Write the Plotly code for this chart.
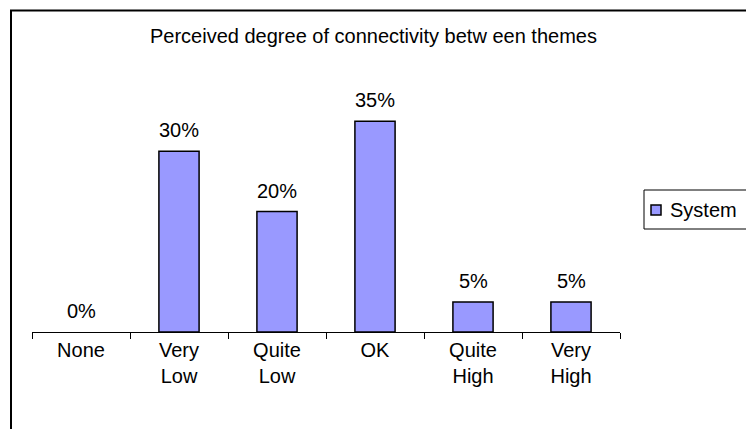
import plotly.graph_objects as go

# Survey responses: share of respondents per perceived connectivity level
categories = ["None", "Very Low", "Quite Low", "OK", "Quite High", "Very High"]
tick_labels = ["None", "Very<br>Low", "Quite<br>Low", "OK", "Quite<br>High", "Very<br>High"]
system_pct = [0, 30, 20, 35, 5, 5]
series_name = "System"
chart_title = "Perceived degree of connectivity betw een themes"

W, H = 746, 429
L, R, T, B = 32, 126, 91, 97
PW, PH = W - L - R, H - T - B

def px_x(px):
    return (px - L) / PW

def px_y(py):
    return (H - B - py) / PH

FONT = "Liberation Sans, Arial, sans-serif"
FS = 20
BAR_FILL = "#9999FF"

fig = go.Figure()
fig.add_trace(go.Bar(
    x=categories,
    y=system_pct,
    name=series_name,
    marker=dict(
        color=BAR_FILL,
        line=dict(color="#000000", width=[0 if v == 0 else 1.5 for v in system_pct]),
    ),
    showlegend=False,
))

# Value labels above each bar
for c, v in zip(categories, system_pct):
    fig.add_annotation(
        x=c, y=v, xref="x", yref="y",
        text=f"{v}%", showarrow=False,
        yanchor="bottom", yshift=8,
        font=dict(family=FONT, size=FS, color="#000000"),
    )

# Outer chart frame
fig.add_shape(
    type="rect", xref="paper", yref="paper",
    x0=px_x(11), x1=px_x(780), y0=px_y(460), y1=px_y(10.5),
    line=dict(color="#000000", width=2), fillcolor="rgba(0,0,0,0)",
    layer="below",
)

# Title
fig.add_annotation(
    x=px_x(373), y=px_y(36), xref="paper", yref="paper",
    text=chart_title, showarrow=False,
    xanchor="center", yanchor="middle",
    font=dict(family=FONT, size=FS, color="#000000"),
)

# Legend box with a compact swatch, running past the right edge
fig.add_shape(
    type="rect", xref="paper", yref="paper",
    x0=px_x(644), x1=px_x(790), y0=px_y(229), y1=px_y(190),
    line=dict(color="#000000", width=1), fillcolor="#FFFFFF",
)
fig.add_shape(
    type="rect", xref="paper", yref="paper",
    x0=px_x(651), x1=px_x(661), y0=px_y(215), y1=px_y(205),
    line=dict(color="#000000", width=1.5), fillcolor=BAR_FILL,
)
fig.add_annotation(
    x=px_x(668), y=px_y(210), xref="paper", yref="paper",
    text=series_name, showarrow=False,
    xanchor="left", yanchor="middle",
    font=dict(family=FONT, size=FS, color="#000000"),
)

fig.update_layout(
    width=W, height=H,
    margin=dict(l=L, r=R, t=T, b=B, autoexpand=False),
    paper_bgcolor="#FFFFFF",
    plot_bgcolor="#FFFFFF",
    bargap=0.59,
    font=dict(family=FONT, size=FS, color="#000000"),
    xaxis=dict(
        type="category",
        tickmode="array", tickvals=categories, ticktext=tick_labels,
        tickson="boundaries", ticks="outside", ticklen=6,
        tickcolor="#000000", tickwidth=1,
        showline=True, linecolor="#000000", linewidth=1,
        showgrid=False, zeroline=False,
        tickfont=dict(family=FONT, size=FS, color="#000000"),
    ),
    yaxis=dict(range=[0, 40], visible=False),
)

fig.write_html("out.html")
